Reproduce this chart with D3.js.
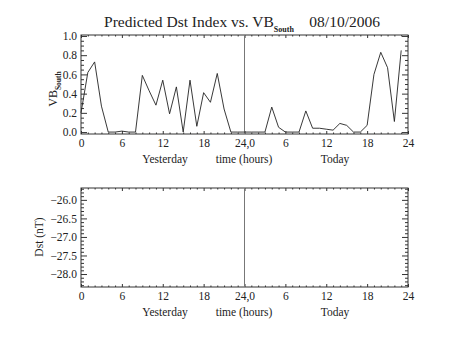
<!DOCTYPE html>
<html>
<head>
<meta charset="utf-8">
<script src="https://cdn.jsdelivr.net/npm/d3@7"></script>
<style>
  html, body { margin: 0; padding: 0; background: #fff; }
  svg { display: block; }
  text { font-family: "Liberation Serif", "DejaVu Serif", serif; fill: #222; }
</style>
</head>
<body>
<svg id="chart" width="453" height="340"></svg>
<script>
// Hours since start of yesterday (0..47) and the southward VB value for each hour
const hours = d3.range(0, 48);
const vbSouth = [
  0.20, 0.62, 0.73, 0.27, 0.00, 0.00, 0.01, 0.00, 0.00, 0.59,
  0.43, 0.28, 0.54, 0.19, 0.47, 0.00, 0.54, 0.06, 0.41, 0.31,
  0.61, 0.24, 0.00, 0.00, 0.00, 0.00, 0.00, 0.00, 0.26, 0.05,
  0.00, 0.00, 0.00, 0.22, 0.04, 0.04, 0.03, 0.02, 0.09, 0.07,
  0.00, 0.00, 0.07, 0.60, 0.83, 0.67, 0.11, 0.85
];
// Predicted Dst values (none available for this date)
const dstValues = [];

const xTickValues = [0, 6, 12, 18, 24, 30, 36, 42, 48];
const xTickLabels = ["0", "6", "12", "18", "24,0", "6", "12", "18", "24"];
const vbTicks = [0.0, 0.2, 0.4, 0.6, 0.8, 1.0];
const dstTicks = [-26.0, -26.5, -27.0, -27.5, -28.0];

const svg = d3.select("#chart");
const axisColor = "#333";
const fontSize = 11.5;

const x = d3.scaleLinear().domain([0, 48]).range([81, 408]);

function drawPanel(opts) {
  const { y, majorY, minorY, fmtY, top, bottom } = opts;
  const g = svg.append("g");
  const left = x.range()[0], right = x.range()[1];

  // frame
  g.append("rect")
    .attr("x", left).attr("y", top)
    .attr("width", right - left).attr("height", bottom - top)
    .attr("fill", "none").attr("stroke", axisColor).attr("stroke-width", 1);

  const minorX = d3.range(0, 49, 1).filter(h => h % 6 !== 0);

  // bottom axis (labels, ticks pointing inward)
  const bAxis = d3.axisBottom(x).tickValues(xTickValues)
    .tickFormat((d, i) => xTickLabels[i]).tickSize(-3).tickPadding(5);
  const bg = g.append("g").attr("transform", `translate(0,${bottom})`).call(bAxis);
  const bgMinor = g.append("g").attr("transform", `translate(0,${bottom})`)
    .call(d3.axisBottom(x).tickValues(minorX).tickFormat("").tickSize(-1.5));
  // top axis
  const tg = g.append("g").attr("transform", `translate(0,${top})`)
    .call(d3.axisTop(x).tickValues(xTickValues).tickFormat("").tickSize(-3));
  const tgMinor = g.append("g").attr("transform", `translate(0,${top})`)
    .call(d3.axisTop(x).tickValues(minorX).tickFormat("").tickSize(-1.5));

  // left and right axes
  const lg = g.append("g").attr("transform", `translate(${left},0)`)
    .call(d3.axisLeft(y).tickValues(majorY).tickFormat(fmtY).tickSize(-6).tickPadding(4));
  const lgMinor = g.append("g").attr("transform", `translate(${left},0)`)
    .call(d3.axisLeft(y).tickValues(minorY).tickFormat("").tickSize(-3));
  const rg = g.append("g").attr("transform", `translate(${right},0)`)
    .call(d3.axisRight(y).tickValues(majorY).tickFormat("").tickSize(-6));
  const rgMinor = g.append("g").attr("transform", `translate(${right},0)`)
    .call(d3.axisRight(y).tickValues(minorY).tickFormat("").tickSize(-3));

  [bg, bgMinor, tg, tgMinor, lg, lgMinor, rg, rgMinor].forEach(a => {
    a.select(".domain").remove();
    a.selectAll(".tick line").attr("stroke", axisColor);
    a.selectAll(".tick text")
      .attr("font-family", '"Liberation Serif", "DejaVu Serif", serif')
      .attr("font-size", fontSize).attr("fill", "#222");
  });

  // midnight divider
  g.append("line")
    .attr("x1", x(24)).attr("x2", x(24))
    .attr("y1", top).attr("y2", bottom)
    .attr("stroke", "#777").attr("stroke-width", 1);

  // axis titles
  const lab = g.append("g").attr("font-size", fontSize);
  lab.append("text").attr("x", 165).attr("y", bottom + 28.5)
    .attr("text-anchor", "middle").text("Yesterday");
  lab.append("text").attr("x", 244).attr("y", bottom + 28.5)
    .attr("text-anchor", "middle").text("time (hours)");
  lab.append("text").attr("x", 335).attr("y", bottom + 28.5)
    .attr("text-anchor", "middle").text("Today");
  return g;
}

// ---- upper panel: VB south ----
const yVB = d3.scaleLinear().domain([-0.02, 1.01]).range([134, 35]);
const vbMinor = d3.range(0, 21).map(i => +(i * 0.05).toFixed(2)).filter(v => Math.round(v * 100) % 20 !== 0);
const p1 = drawPanel({
  y: yVB, majorY: vbTicks, minorY: vbMinor, fmtY: d3.format(".1f"), top: 35, bottom: 134
});

p1.append("path")
  .datum(hours.map((h, i) => [h, vbSouth[i]]))
  .attr("fill", "none").attr("stroke", "#222").attr("stroke-width", 0.9)
  .attr("d", d3.line().x(d => x(d[0])).y(d => yVB(d[1])));

const vbLabel = svg.append("text")
  .attr("transform", "translate(57,89) rotate(-90)")
  .attr("text-anchor", "middle").attr("font-size", 12);
vbLabel.append("tspan").text("VB");
vbLabel.append("tspan").attr("font-size", 7.5).attr("dy", 3.5).attr("font-weight", "bold").text("South");

// ---- lower panel: predicted Dst ----
const yDst = d3.scaleLinear().domain([-28.35, -25.68]).range([287, 188]);
const dstMinor = d3.range(-283, -256, 1).map(v => v / 10).filter(v => Math.round(v * 10) % 5 !== 0);
const p2 = drawPanel({
  y: yDst, majorY: dstTicks, minorY: dstMinor,
  fmtY: d => d3.format(".1f")(d).replace("-", "\u2212"), top: 188, bottom: 287
});

p2.append("path")
  .datum(dstValues)
  .attr("fill", "none").attr("stroke", "#222")
  .attr("d", d3.line().x(d => x(d[0])).y(d => yDst(d[1])));

svg.append("text")
  .attr("transform", "translate(43,237) rotate(-90)")
  .attr("text-anchor", "middle").attr("font-size", fontSize).text("Dst (nT)");

// ---- title ----
const title = svg.append("text").attr("x", 242).attr("y", 27)
  .attr("text-anchor", "middle").attr("font-size", 15.5);
title.append("tspan").text("Predicted Dst Index vs. VB");
title.append("tspan").attr("font-size", 8).attr("dy", 5).attr("font-weight", "bold").text("South");
title.append("tspan").attr("dy", -5).text("\u00a0\u00a0\u00a0\u00a008/10/2006");
</script>
</body>
</html>
